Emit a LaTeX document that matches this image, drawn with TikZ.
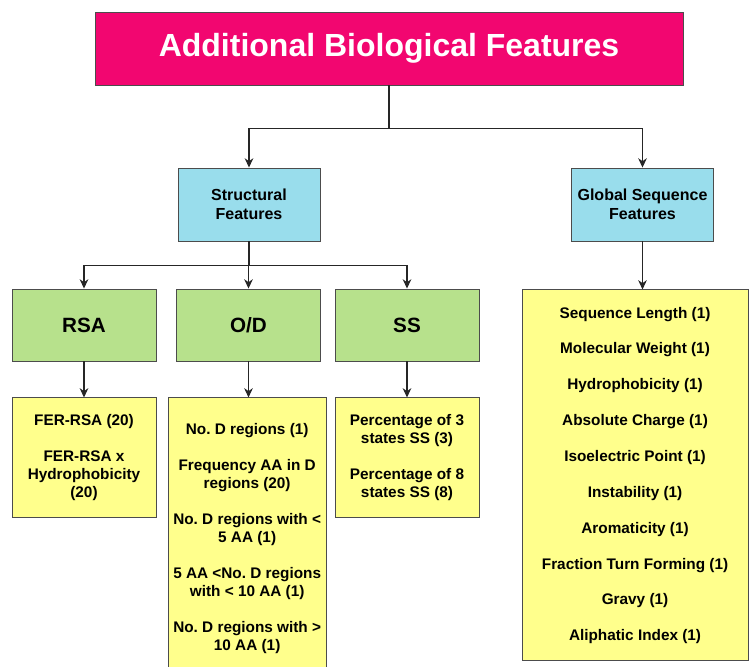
\documentclass[tikz,border=0pt]{standalone}
\usepackage{fontspec}
\setmainfont{Liberation Sans}
\usetikzlibrary{arrows.meta,positioning}
\definecolor{headpink}{RGB}{242,6,112}
\definecolor{catblue}{RGB}{153,221,236}
\definecolor{grpgreen}{RGB}{183,225,140}
\definecolor{listyellow}{RGB}{255,255,140}
\frenchspacing

\begin{document}
\begin{tikzpicture}[
    x=0.75pt,y=-0.75pt,
    font=\bfseries,
    box/.style={draw=black!70,line width=0.7pt,align=center,inner sep=2pt},
    head/.style={box,fill=headpink,text=white,minimum width=441pt,
                 minimum height=54.75pt,font=\fontsize{24}{28}\selectfont\bfseries},
    cat/.style={box,fill=catblue,minimum width=106.5pt,minimum height=54.75pt,
                font=\fontsize{12}{14}\selectfont\bfseries},
    grp/.style={box,fill=grpgreen,minimum width=108pt,minimum height=54pt,
                font=\fontsize{15.5}{18}\selectfont\bfseries},
    lst/.style={box,fill=listyellow,minimum width=108pt,
                font=\fontsize{11.5}{13.5}\selectfont\bfseries},
    arr/.style={-{Stealth[length=7pt,width=6.5pt]},line width=0.8pt,black!85},
    lin/.style={line width=0.8pt,black!85}
  ]
    \useasboundingbox (0,0) rectangle (751,667);
    \node[head] (top) at (389,48.5) {Additional Biological Features};
    \node[cat] (struct) at (249,204.5) {Structural\\Features};
    \node[cat] (glob) at (642.5,204.5) {Global Sequence\\Features};
    \node[grp] (rsa) at (84,325) {RSA};
    \node[grp] (od) at (248.5,325) {O/D};
    \node[grp] (ss) at (407,325) {SS};
    \node[lst,below=27pt of rsa,minimum height=90pt] (fer)
      {FER-RSA (20)\\[13.4pt]FER-RSA x\\Hydrophobicity\\(20)};
    \node[lst,below=27pt of od,xshift=-1pt,minimum width=118.5pt,minimum height=210.75pt] (dis)
      {No. D regions (1)\\[13.4pt]Frequency AA in D\\regions (20)\\[13.4pt]
       No. D regions with <\\5 AA (1)\\[13.4pt]5 AA <No. D regions\\with < 10 AA (1)\\[13.4pt]
       No. D regions with >\\10 AA (1)};
    \node[lst,below=27pt of ss,minimum height=90pt] (sec)
      {Percentage of 3\\states SS (3)\\[13.4pt]Percentage of 8\\states SS (8)};
    \node[lst,below=36pt of glob,xshift=-5.6pt,minimum width=169.5pt,minimum height=278.25pt] (seq)
      {Sequence Length (1)\\[13.4pt]Molecular Weight (1)\\[13.4pt]Hydrophobicity (1)\\[13.4pt]
       Absolute Charge (1)\\[13.4pt]Isoelectric Point (1)\\[13.4pt]Instability (1)\\[13.4pt]
       Aromaticity (1)\\[13.4pt]Fraction Turn Forming (1)\\[13.4pt]Gravy (1)\\[13.4pt]
       Aliphatic Index (1)};
    % top split
    \draw[lin] (top.south) -- ++(0,43) coordinate (split);
    \draw[arr] (split) -| (struct.north);
    \draw[arr] (split) -| (glob.north);
    % structural split
    \draw[lin] (struct.south) -- ++(0,24) coordinate (fork);
    \draw[arr] (fork) -| (rsa.north);
    \draw[arr] (fork) -| (od.north);
    \draw[arr] (fork) -| (ss.north);
    \draw[arr] (rsa) -- (fer);
    \draw[arr] (od) -- (od |- dis.north);
    \draw[arr] (ss) -- (sec);
    \draw[arr] (glob) -- (glob |- seq.north);
\end{tikzpicture}
\end{document}
